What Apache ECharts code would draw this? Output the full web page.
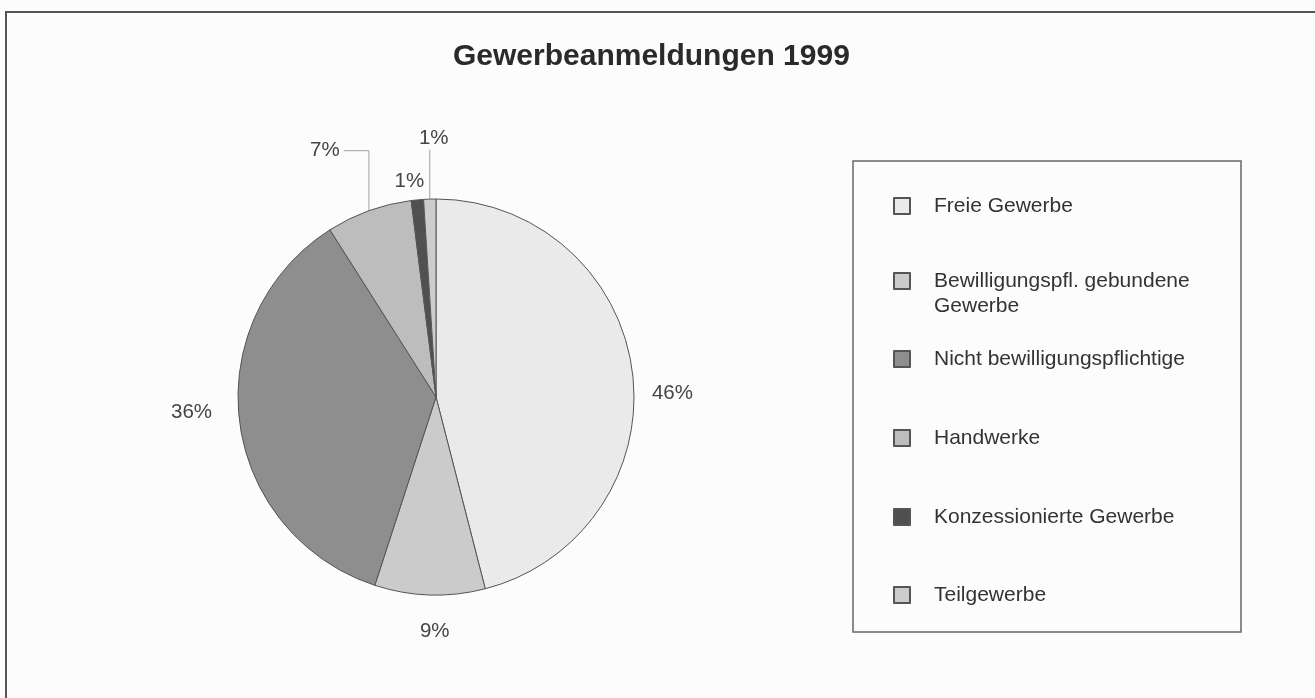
<!DOCTYPE html>
<html>
<head>
<meta charset="utf-8">
<title>Gewerbeanmeldungen 1999</title>
<script src="https://cdn.jsdelivr.net/npm/echarts@6/dist/echarts.min.js"></script>
<style>
  html, body { margin: 0; padding: 0; background: #fcfcfc; }
  #chart { width: 1315px; height: 698px; }
</style>
</head>
<body>
<div id="chart"></div>
<script>
// Daten
const categories = [
  'Freie Gewerbe',
  'Bewilligungspfl. gebundene\nGewerbe',
  'Nicht bewilligungspflichtige',
  'Handwerke',
  'Konzessionierte Gewerbe',
  'Teilgewerbe'
];
const shares = [46, 9, 36, 7, 1, 1];

// Darstellung
const sliceColors = ['#eaeaea', '#cbcbcb', '#8e8e8e', '#bdbdbd', '#505050', '#cccccc'];
const withLeader = [3, 5];
// Verschiebung der Beschriftung relativ zum Rand des Segments
const labelNudge = [[40, 21], [5, 36], [-48, -9], [-44, -60], [-8, -19], [4, -61]];
const legendCenters = [206, 281, 359, 438, 517, 595];
const legendLineHeight = 25;

const chart = echarts.init(document.getElementById('chart'));

const seriesData = categories.map((name, i) => ({
  name: name,
  value: shares[i],
  itemStyle: { color: sliceColors[i] },
  labelLine: { show: withLeader.includes(i) }
}));

// eine Legende je Eintrag, damit die Abstaende wie im Original gleich bleiben
const legends = categories.map((name, i) => {
  const twoLines = name.includes('\n');
  const half = twoLines ? legendLineHeight * 1.5 : 10.5;
  return {
    data: [name],
    orient: 'vertical',
    left: 893,
    top: legendCenters[i] - half,
    padding: 0,
    itemWidth: 16,
    itemHeight: 16,
    icon: 'rect',
    selectedMode: false,
    // leere erste Zeile: erste Textzeile steht dann auf Hoehe des Symbols
    formatter: n => (n.includes('\n') ? '\n' + n : n),
    textStyle: {
      fontFamily: 'Liberation Sans, Arial, sans-serif',
      fontSize: 21,
      lineHeight: twoLines ? legendLineHeight : undefined,
      padding: [0, 0, 0, 19],
      color: '#333'
    }
  };
});

const option = {
  backgroundColor: '#fcfcfc',
  animation: false,
  title: {
    text: 'Gewerbeanmeldungen 1999',
    left: 453,
    top: 42,
    padding: 0,
    textStyle: {
      fontFamily: 'Liberation Sans, Arial, sans-serif',
      fontSize: 30,
      fontWeight: 'bold',
      color: '#2a2a2a'
    }
  },
  graphic: [
    {
      type: 'rect',
      shape: { x: 6, y: 12, width: 1400, height: 800 },
      style: { fill: 'none', stroke: '#555', lineWidth: 2 },
      silent: true
    },
    {
      type: 'rect',
      shape: { x: 853, y: 161, width: 388, height: 471 },
      style: { fill: 'none', stroke: '#666', lineWidth: 1.5 },
      silent: true
    }
  ],
  legend: legends,
  series: [{
    type: 'pie',
    center: [436, 397],
    radius: 198,
    startAngle: 90,
    clockwise: true,
    avoidLabelOverlap: false,
    emphasis: { disabled: true },
    itemStyle: { borderColor: '#555', borderWidth: 1 },
    label: {
      show: true,
      position: 'outside',
      distanceToLabelLine: 0,
      formatter: '{c}%',
      fontFamily: 'Liberation Sans, Arial, sans-serif',
      fontSize: 20.5,
      color: '#444'
    },
    labelLine: {
      length: 0,
      length2: 0,
      lineStyle: { color: '#a0a0a0', width: 1 }
    },
    labelLayout: function (p) {
      const i = p.dataIndex;
      const r = p.labelRect;
      // Ankerpunkt = Rand des Segments (Linienlaenge 0)
      const ax = p.align === 'left' ? r.x : r.x + r.width;
      const ay = r.y + r.height / 2;
      const x = ax + labelNudge[i][0];
      const y = ay + labelNudge[i][1];
      const out = { x: x, y: y, align: 'center', verticalAlign: 'middle' };
      if (i === 3) {
        out.labelLinePoints = [[ax, ay], [ax, y], [x + r.width / 2 + 4, y]];
      } else if (i === 5) {
        out.labelLinePoints = [[ax, ay], [ax, y + r.height / 2 + 1]];
      }
      return out;
    },
    data: seriesData
  }]
};

chart.setOption(option);
</script>
</body>
</html>
